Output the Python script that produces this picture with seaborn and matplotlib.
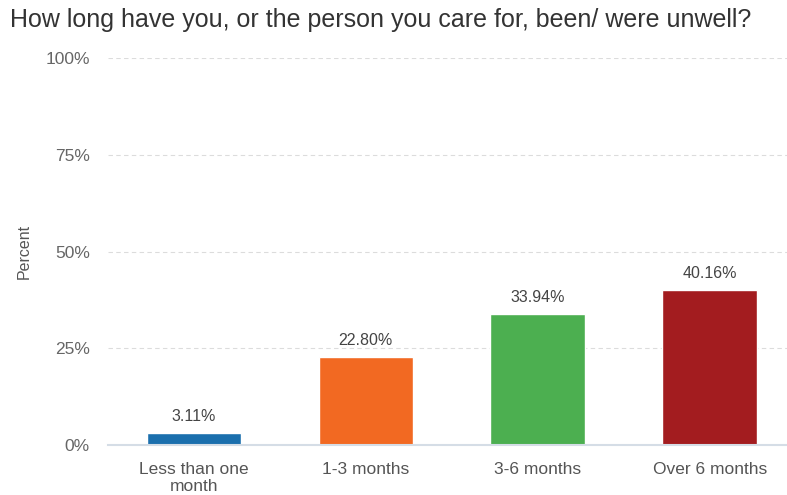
import matplotlib
matplotlib.use("Agg")
import matplotlib.pyplot as plt
import seaborn as sns
import pandas as pd
from matplotlib.ticker import FuncFormatter

categories = ["Less than one\nmonth", "1-3 months", "3-6 months", "Over 6 months"]
percent = [3.11, 22.80, 33.94, 40.16]
colors = ["#1b6fad", "#f26922", "#4caf50", "#a31c1f"]
yticks = [0, 25, 50, 75, 100]

sns.set_theme(style="white")
plt.rcParams["font.family"] = ["Liberation Sans", "DejaVu Sans"]

df = pd.DataFrame({"category": categories, "percent": percent})

fig = plt.figure(figsize=(7.87, 4.95), dpi=100)
ax = fig.add_axes([108 / 787, 50 / 495, 679 / 787, 387 / 495])

sns.barplot(data=df, x="category", y="percent", hue="category",
            palette=colors, width=0.55, legend=False, ax=ax, saturation=1)

ax.set_ylim(0, 100)
ax.set_xlim(-0.5, 3.45)
ax.set_yticks(yticks)
ax.yaxis.set_major_formatter(FuncFormatter(lambda v, _: f"{int(v)}%"))
ax.grid(axis="y", color="#dcdcdc", linestyle=(0, (4, 3)), linewidth=0.8)
ax.set_axisbelow(True)
for s in ["top", "right", "left"]:
    ax.spines[s].set_visible(False)
ax.spines["bottom"].set_color("#d5dde6")
ax.spines["bottom"].set_linewidth(1.5)
ax.tick_params(axis="y", length=0, pad=13, labelsize=12.5, labelcolor="#666666")
ax.tick_params(axis="x", length=0, pad=12, labelsize=12.5, labelcolor="#555555")
for lbl in ax.get_xticklabels():
    lbl.set_linespacing(1.2)
ax.set_xlabel("")
ax.set_ylabel("Percent", fontsize=11.5, color="#555555")
ax.yaxis.set_label_coords(-0.113, 0.5)

for i, v in enumerate(percent):
    ax.text(i, v + 2.2, f"{v:.2f}%", ha="center", va="bottom",
            fontsize=11.5, color="#444444")

fig.text(10 / 787, 1 - 20 / 495, "How long have you, or the person you care for, been/ were unwell?",
         fontsize=18, color="#333333", ha="left", va="center")

fig.savefig("out.png", dpi=100)
